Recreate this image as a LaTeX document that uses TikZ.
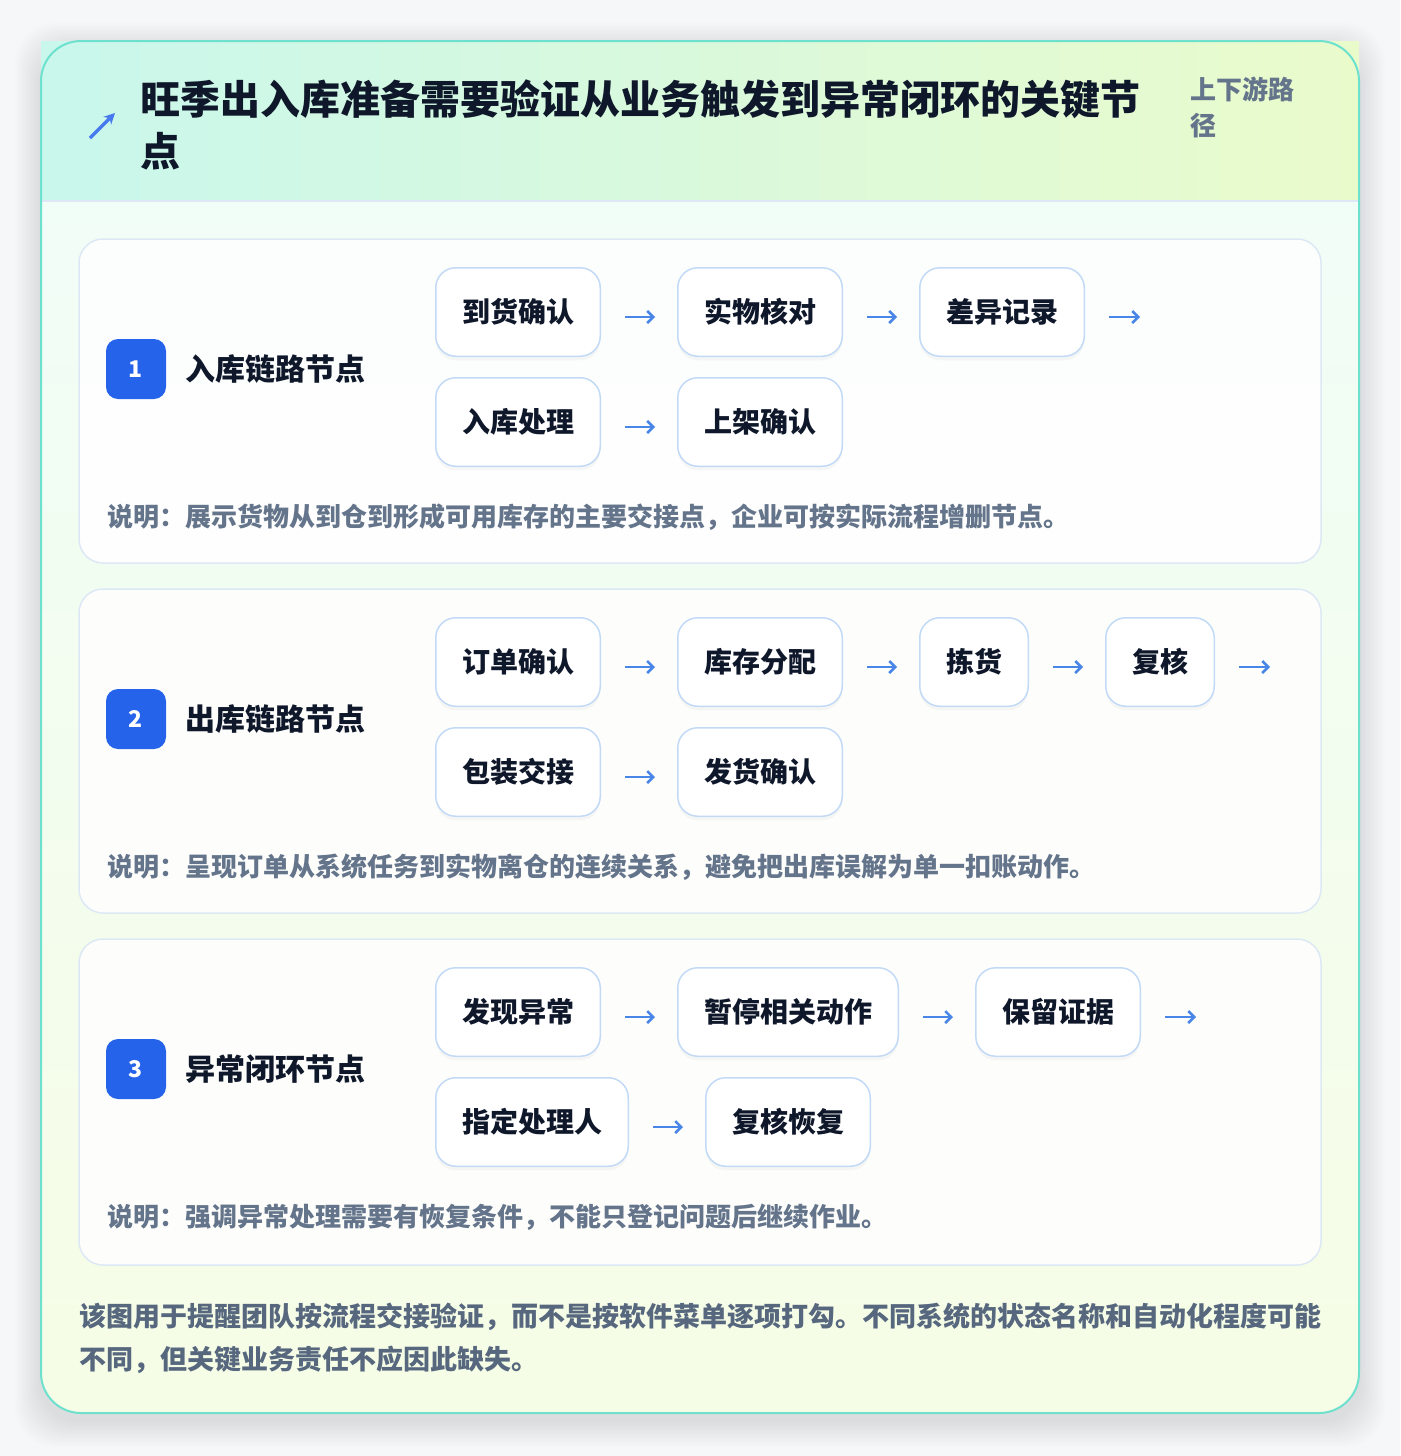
\documentclass[tikz,border=0pt]{standalone}
\usepackage{fontspec}
\setmainfont{Noto Sans CJK SC}
\usetikzlibrary{positioning,arrows.meta,shadows}

\definecolor{ink}{HTML}{0F172A}
\definecolor{slate}{HTML}{64748B}
\definecolor{footgray}{HTML}{56677E}
\definecolor{badgeblue}{HTML}{2563EB}
\definecolor{flowblue}{HTML}{4A86E8}
\definecolor{stepline}{HTML}{C3DAF7}
\definecolor{secline}{HTML}{DCE8F5}
\definecolor{cardline}{HTML}{6EE0CE}
\definecolor{headleft}{HTML}{C9F7EC}
\definecolor{headright}{HTML}{EAFBCB}
\definecolor{bodytop}{HTML}{F0FDF9}
\definecolor{bodybottom}{HTML}{F6FDE6}
\definecolor{pagebg}{HTML}{F6F7F9}

\tikzset{
  stepbox/.style={draw=stepline, line width=1.5pt, fill=white, rounded corners=20pt,
    minimum height=88.5pt, inner xsep=26.25pt, inner ysep=0pt, text=ink,
    font=\fontsize{28}{34}\selectfont\bfseries,
    drop shadow={opacity=0.06, shadow xshift=0pt, shadow yshift=-4pt}},
  flow/.style={draw=flowblue, line width=2.5pt, -{Straight Barb[length=6pt,width=12pt]}},
  section/.style={draw=secline, line width=1.5pt, fill=white, fill opacity=0.85, rounded corners=24pt},
  badge/.style={fill=badgeblue, rounded corners=12pt, minimum size=60pt, inner sep=0pt,
    text=white, font=\fontsize{23}{26}\selectfont\bfseries},
  seclabel/.style={anchor=west, inner sep=0pt, text=ink, font=\fontsize{30}{36}\selectfont\bfseries},
  note/.style={anchor=west, inner sep=0pt, text=slate, font=\fontsize{26}{30}\selectfont\bfseries},
}

\begin{document}
\begin{tikzpicture}[x=1pt,y=-1pt]
   \useasboundingbox (0,0) rectangle (1400,1456);
   \fill[pagebg] (0,0) rectangle (1400,1456);
   \foreach \s in {2,4,...,26}
      \fill[black, opacity=0.006, rounded corners=40] ({41-\s},{49-\s}) rectangle ({1359+\s},{1421+\s});

   % card
   \shade[top color=bodytop, bottom color=bodybottom, rounded corners=40] (41,41) rectangle (1359,1413);
   \shade[left color=headleft, right color=headright] (41,41) rectangle (1359,200);
   \draw[secline, line width=2pt] (41,201) -- (1359,201);
   \draw[cardline, line width=2pt, rounded corners=40] (41,41) rectangle (1359,1413);

   \draw[badgeblue!85!white, line width=3.5pt, -{Stealth[length=11pt,width=11pt]}] (90,138) -- (115,113);
   \node[anchor=north west, inner sep=0pt, align=left, text=ink,
         font=\fontsize{40}{52}\selectfont\bfseries] (title) at (140,80)
         {旺季出入库准备需要验证从业务触发到异常闭环的关键节\\点};
   \node[anchor=north west, inner sep=0pt, align=left, text=slate,
         font=\fontsize{26}{36}\selectfont\bfseries] (tag) at (1190,77) {上下游路\\径};

   % section 1
   \draw[section] (79,239) rectangle (1321,563);
   \node[badge] (b1) at (136,369) {1};
   \node[seclabel, right=19pt of b1] (l1) {入库链路节点};
   \node[stepbox, anchor=north west] (s11) at (435,267) {到货确认};
   \node[stepbox, right=76pt of s11] (s12) {实物核对};
   \node[stepbox, right=76pt of s12] (s13) {差异记录};
   \coordinate[right=55pt of s13] (e1);
   \node[stepbox, anchor=north west] (s14) at ([yshift=-20pt]s11.south west) {入库处理};
   \node[stepbox, right=76pt of s14] (s15) {上架确认};
   \draw[flow, shorten <=24pt, shorten >=22pt] ([yshift=-5pt]s11.east) -- ([yshift=-5pt]s12.west);
   \draw[flow, shorten <=24pt, shorten >=22pt] ([yshift=-5pt]s12.east) -- ([yshift=-5pt]s13.west);
   \draw[flow, shorten <=24pt] ([yshift=-5pt]s13.east) -- ([yshift=-5pt]e1);
   \draw[flow, shorten <=24pt, shorten >=22pt] ([yshift=-5pt]s14.east) -- ([yshift=-5pt]s15.west);
   \node[note] (n1) at (107,517) {说明：展示货物从到仓到形成可用库存的主要交接点，企业可按实际流程增删节点。};

   % section 2
   \draw[section] (79,589) rectangle (1321,913);
   \node[badge] (b2) at (136,719) {2};
   \node[seclabel, right=19pt of b2] (l2) {出库链路节点};
   \node[stepbox, anchor=north west] (s21) at (435,617) {订单确认};
   \node[stepbox, right=76pt of s21] (s22) {库存分配};
   \node[stepbox, right=76pt of s22] (s23) {拣货};
   \node[stepbox, right=76pt of s23] (s24) {复核};
   \coordinate[right=55pt of s24] (e2);
   \node[stepbox, anchor=north west] (s25) at ([yshift=-20pt]s21.south west) {包装交接};
   \node[stepbox, right=76pt of s25] (s26) {发货确认};
   \draw[flow, shorten <=24pt, shorten >=22pt] ([yshift=-5pt]s21.east) -- ([yshift=-5pt]s22.west);
   \draw[flow, shorten <=24pt, shorten >=22pt] ([yshift=-5pt]s22.east) -- ([yshift=-5pt]s23.west);
   \draw[flow, shorten <=24pt, shorten >=22pt] ([yshift=-5pt]s23.east) -- ([yshift=-5pt]s24.west);
   \draw[flow, shorten <=24pt] ([yshift=-5pt]s24.east) -- ([yshift=-5pt]e2);
   \draw[flow, shorten <=24pt, shorten >=22pt] ([yshift=-5pt]s25.east) -- ([yshift=-5pt]s26.west);
   \node[note] (n2) at (107,867) {说明：呈现订单从系统任务到实物离仓的连续关系，避免把出库误解为单一扣账动作。};

   % section 3
   \draw[section] (79,939) rectangle (1321,1265);
   \node[badge] (b3) at (136,1069) {3};
   \node[seclabel, right=19pt of b3] (l3) {异常闭环节点};
   \node[stepbox, anchor=north west] (s31) at (435,967) {发现异常};
   \node[stepbox, right=76pt of s31] (s32) {暂停相关动作};
   \node[stepbox, right=76pt of s32] (s33) {保留证据};
   \coordinate[right=55pt of s33] (e3);
   \node[stepbox, anchor=north west] (s34) at ([yshift=-20pt]s31.south west) {指定处理人};
   \node[stepbox, right=76pt of s34] (s35) {复核恢复};
   \draw[flow, shorten <=24pt, shorten >=22pt] ([yshift=-5pt]s31.east) -- ([yshift=-5pt]s32.west);
   \draw[flow, shorten <=24pt, shorten >=22pt] ([yshift=-5pt]s32.east) -- ([yshift=-5pt]s33.west);
   \draw[flow, shorten <=24pt] ([yshift=-5pt]s33.east) -- ([yshift=-5pt]e3);
   \draw[flow, shorten <=24pt, shorten >=22pt] ([yshift=-5pt]s34.east) -- ([yshift=-5pt]s35.west);
   \node[note] (n3) at (107,1217) {说明：强调异常处理需要有恢复条件，不能只登记问题后继续作业。};

   \node[anchor=north west, inner sep=0pt, align=left, text=footgray,
         font=\fontsize{27}{43}\selectfont\bfseries] (foot) at (79,1303)
         {该图用于提醒团队按流程交接验证，而不是按软件菜单逐项打勾。不同系统的状态名称和自动化程度可能\\不同，但关键业务责任不应因此缺失。};
\end{tikzpicture}
\end{document}
